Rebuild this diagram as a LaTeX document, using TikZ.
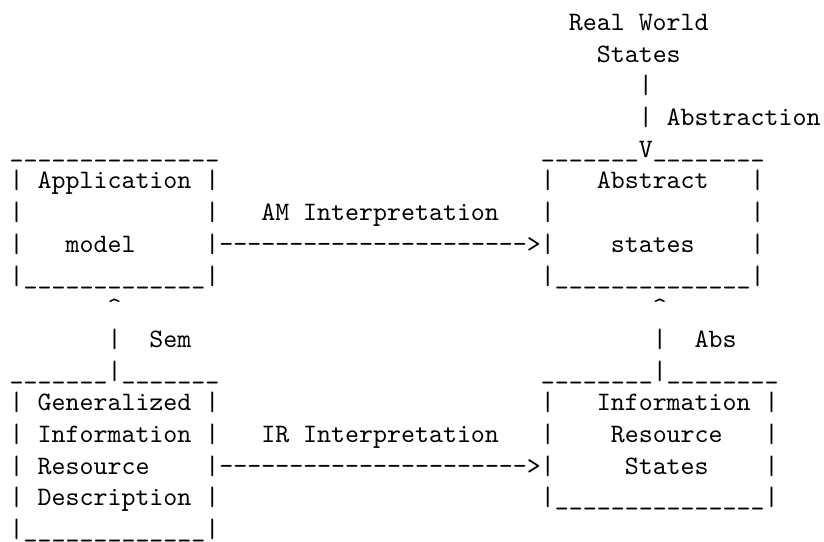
\documentclass[tikz,border=0pt]{standalone}
\usepackage{tikz}
\newcommand\rep[2]{\foreach\k in {1,...,#1}{#2\kern0pt}}
\tikzset{txt/.style={font=\ttfamily, inner sep=0pt, outer sep=0pt, anchor=base west}}
\begin{document}
\begin{tikzpicture}[x=5.25pt,y=-11.9pt]
\useasboundingbox (-0.694,0.036) rectangle (58.25,17.137);
% top: real world states
\node[txt] (rw)   at (40,1) {Real World};
\node[txt] (rws)  at (42,2) {States};
\node[txt] (ab1)  at (45,3) {|};
\node[txt] (ab2)  at (45,4) {|};
\node[txt] (abl)  at (47,4) {Abstraction};
% row 5
\node[txt] (amtop) at (0,5) {\rep{15}{\_}};
\node[txt] (astop) at (38,5) {\rep{7}{\_}V\rep{8}{\_}};
% row 6
\node[txt] (am6a) at (0,6) {|};
\node[txt] (amt1) at (2,6) {Application};
\node[txt] (am6b) at (14,6) {|};
\node[txt] (as6a) at (38,6) {|};
\node[txt] (ast1) at (42,6) {Abstract};
\node[txt] (as6b) at (53,6) {|};
% row 7
\node[txt] (am7a) at (0,7) {|};
\node[txt] (am7b) at (14,7) {|};
\node[txt] (aml)  at (18,7) {AM Interpretation};
\node[txt] (as7a) at (38,7) {|};
\node[txt] (as7b) at (53,7) {|};
% row 8
\node[txt] (am8a) at (0,8) {|};
\node[txt] (amt2) at (4,8) {model};
\node[txt] (amarr) at (14,8) {|\rep{22}{-}>|};
\node[txt] (ast2) at (43,8) {states};
\node[txt] (as8b) at (53,8) {|};
% row 9
\node[txt] (ambot) at (0,9) {|\rep{13}{\_}|};
\node[txt] (asbot) at (38,9) {|\rep{14}{\_}|};
% row 10-11
\node[txt] (semh) at (7,10) {\textasciicircum};
\node[txt] (absh) at (46,10) {\textasciicircum};
\node[txt] (sem1) at (7,11) {|};
\node[txt] (seml) at (10,11) {Sem};
\node[txt] (abs1) at (46,11) {|};
\node[txt] (absl) at (49,11) {Abs};
% row 12
\node[txt] (gtop) at (0,12) {\rep{7}{\_}|\rep{7}{\_}};
\node[txt] (itop) at (38,12) {\rep{8}{\_}|\rep{8}{\_}};
% row 13
\node[txt] (g13a) at (0,13) {|};
\node[txt] (gt1)  at (2,13) {Generalized};
\node[txt] (g13b) at (14,13) {|};
\node[txt] (i13a) at (38,13) {|};
\node[txt] (it1)  at (42,13) {Information};
\node[txt] (i13b) at (54,13) {|};
% row 14
\node[txt] (g14a) at (0,14) {|};
\node[txt] (gt2)  at (2,14) {Information};
\node[txt] (g14b) at (14,14) {|};
\node[txt] (irl)  at (18,14) {IR Interpretation};
\node[txt] (i14a) at (38,14) {|};
\node[txt] (it2)  at (43,14) {Resource};
\node[txt] (i14b) at (54,14) {|};
% row 15
\node[txt] (g15a) at (0,15) {|};
\node[txt] (gt3)  at (2,15) {Resource};
\node[txt] (irarr) at (14,15) {|\rep{22}{-}>|};
\node[txt] (it3)  at (44,15) {States};
\node[txt] (i15b) at (54,15) {|};
% row 16
\node[txt] (g16a) at (0,16) {|};
\node[txt] (gt4)  at (2,16) {Description};
\node[txt] (g16b) at (14,16) {|};
\node[txt] (ibot) at (38,16) {|\rep{15}{\_}|};
% row 17
\node[txt] (gbot) at (0,17) {|\rep{13}{\_}|};
\end{tikzpicture}
\end{document}
